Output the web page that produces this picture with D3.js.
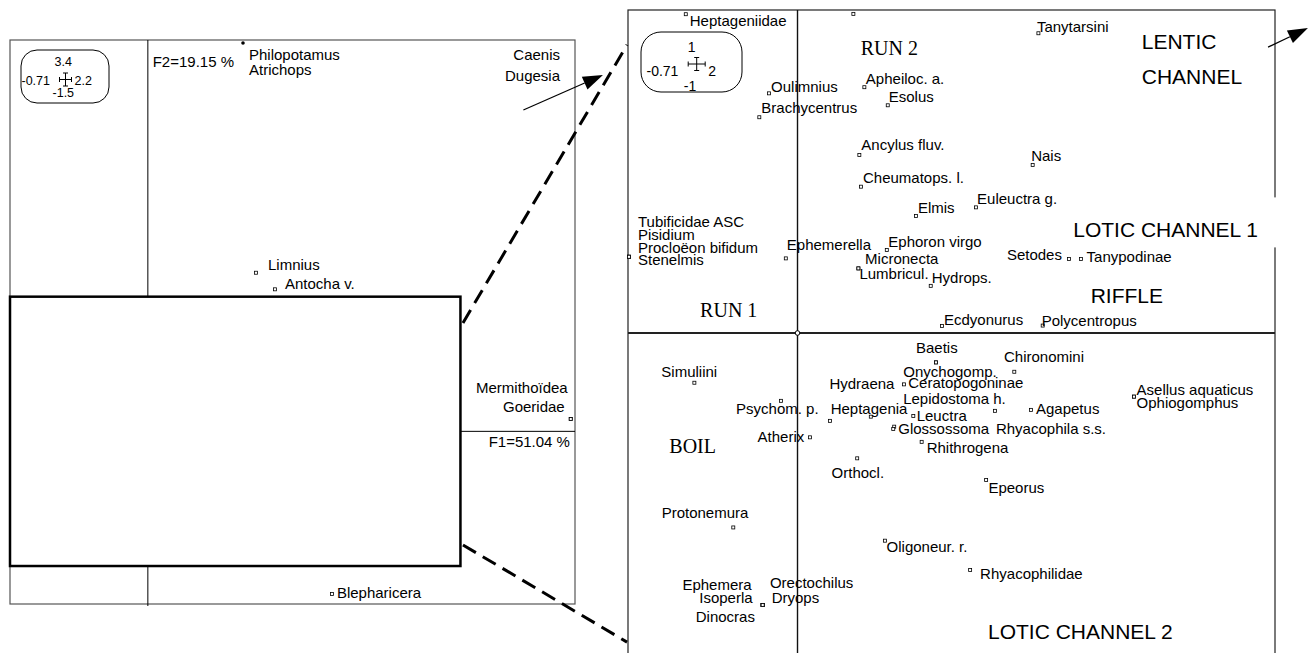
<!DOCTYPE html>
<html lang="en">
<head>
<meta charset="UTF-8">
<title>Correspondence analysis F1 x F2</title>
<script src="https://cdnjs.cloudflare.com/ajax/libs/d3/7.8.5/d3.min.js"></script>
<style>
  body { margin: 0; background: #fff; }
  svg { display: block; }
  .lab { font-family: Arial, "Liberation Sans", sans-serif; font-size: 15px; fill: #000; }
  .big { font-family: Arial, "Liberation Sans", sans-serif; font-size: 21px; fill: #000; }
  .serif { font-family: "Times New Roman", "Liberation Serif", serif; font-size: 20px; fill: #000; }
</style>
</head>
<body>
<svg width="1314" height="653"></svg>
<script>
// ---------- data ----------
// full factorial plane (left)
const fullX = [-0.71, 2.2];
const fullY = [-1.5, 3.4];
const axisNames = ["F1=51.04 %", "F2=19.15 %"];
const fullTaxa = ["Philopotamus", "Atrichops", "Limnius", "Antocha v.", "Mermithoïdea", "Goeridae", "Blepharicera"];
const fullF1 = [0.49, 0.49, 0.557, 0.655, 2.178, 2.178, 0.948];
const fullF2 = [3.374, 3.374, 1.378, 1.234, 0.107, 0.107, -1.413];
const offTaxa = ["Caenis", "Dugesia"];          // beyond the frame, label only
// zoomed area shown in the left panel
const zoomBoxX = [-0.71, 1.61];
const zoomBoxY = [-1.17, 1.17];

// zoomed plane (right)
const zoomX = [-0.71, 2];
const zoomY = [-1, 1];
const zoomTaxa = [
  "Heptageniidae", "", "Oulimnius", "Brachycentrus", "Apheiloc. a.", "Esolus", "Ancylus fluv.",
  "Tanytarsini", "Nais", "Cheumatops. l.", "Elmis", "Euleuctra g.",
  "Tubificidae ASC", "Pisidium", "Procloëon bifidum", "Stenelmis",
  "Ephemerella", "Ephoron virgo", "Micronecta", "Lumbricul.", "Hydrops.", "Ecdyonurus",
  "Polycentropus", "Setodes", "Tanypodinae",
  "Simuliini", "Psychom. p.", "Heptagenia", "Hydraena", "Atherix", "Orthocl.",
  "Baetis", "Onychogomp.", "Chironomini", "Ceratopogoninae", "Lepidostoma h.", "Leuctra",
  "Agapetus", "Glossossoma", "Rhyacophila s.s.", "Rhithrogena", "Asellus aquaticus", "Ophiogomphus",
  "Epeorus", "Protonemura", "Ephemera", "Isoperla", "Dinocras", "Orectochilus", "Dryops",
  "Oligoneur. r.", "Rhyacophilidae"
];
const zoomF1 = [
  -0.468, 0.234, -0.119, -0.160, 0.280, 0.378, 0.259,
  1.009, 0.985, 0.266, 0.496, 0.748,
  -0.706, -0.706, -0.706, -0.706,
  -0.049, 0.374, 0.255, 0.255, 0.558, 0.605,
  1.027, 1.137, 1.187,
  -0.432, -0.069, 0.136, 0.307, 0.052, 0.250,
  0.580, 0.580, 0.908, 0.446, 0.405, 0.485,
  0.978, 0.401, 0.827, 0.520, 1.409, 1.409,
  0.790, -0.269, -0.146, -0.146, -0.146, -0.146, -0.146,
  0.366, 0.723
];
const zoomF2 = [
  0.987, 0.988, 0.742, 0.668, 0.761, 0.705, 0.551,
  0.928, 0.520, 0.453, 0.362, 0.389,
  0.236, 0.236, 0.236, 0.236,
  0.231, 0.257, 0.200, 0.200, 0.146, 0.022,
  0.023, 0.229, 0.229,
  -0.154, -0.210, -0.272, -0.259, -0.323, -0.388,
  -0.091, -0.091, -0.120, -0.159, -0.290, -0.257,
  -0.238, -0.297, -0.241, -0.337, -0.197, -0.197,
  -0.455, -0.602, -0.842, -0.842, -0.842, -0.842, -0.842,
  -0.643, -0.734
];
// habitat groups written on the zoomed plane
const groupNames = ["RUN 2", "RUN 1", "BOIL", "LENTIC", "CHANNEL", "LOTIC CHANNEL 1", "RIFFLE", "LOTIC CHANNEL 2"];
const groupF1 = [0.265, -0.408, -0.537, 1.442, 1.442, 1.155, 1.228, 0.798];
const groupF2 = [0.861, 0.051, -0.372, 0.879, 0.770, 0.296, 0.094, -0.948];

// ---------- layout (label offsets in px) ----------
const fullLabelOff = {
  "Philopotamus": [6, 17], "Atrichops": [6, 32], "Limnius": [12, -3], "Antocha v.": [10, 0],
  "Mermithoïdea": [-3, -26, "end"], "Goeridae": [-6, -7, "end"], "Blepharicera": [5, 4]
};
const zoomLabelOff = {
  "Heptageniidae": [4, 12], "Oulimnius": [2, -1.5], "Brachycentrus": [2, -4.5],
  "Apheiloc. a.": [1.5, -3], "Esolus": [1, -3], "Ancylus fluv.": [2, -5],
  "Tanytarsini": [-1.5, -1], "Nais": [-1.5, -4], "Cheumatops. l.": [2, -4], "Elmis": [2, -3],
  "Euleuctra g.": [1, -3], "Tubificidae ASC": [9, -30], "Pisidium": [9, -16.5],
  "Procloëon bifidum": [9, -3.5], "Stenelmis": [9, 8.3], "Ephemerella": [1, -8],
  "Ephoron virgo": [1.5, -2.7], "Micronecta": [6.7, -4.3], "Lumbricul.": [1, 11],
  "Hydrops.": [1, -2.7], "Ecdyonurus": [2, -0.5], "Polycentropus": [-1, 0],
  "Setodes": [-7, 1, "end"], "Tanypodinae": [5.7, 3], "Simuliini": [-33, -6],
  "Psychom. p.": [-45, 13.3], "Heptagenia": [0.7, -6.7], "Hydraena": [-41.4, -27.4],
  "Atherix": [-5.7, 4.4, "end"], "Orthocl.": [-25.6, 19.4], "Baetis": [-20, -9],
  "Onychogomp.": [-32.7, 14.4], "Chironomini": [-10.3, -10], "Ceratopogoninae": [4.3, 4],
  "Lepidostoma h.": [9, -22.7], "Leuctra": [3.4, 4.7], "Agapetus": [5, 4],
  "Glossossoma": [5, 5], "Rhyacophila s.s.": [1, 23], "Rhithrogena": [5, 11.6],
  "Asellus aquaticus": [2.7, -1.7], "Ophiogomphus": [2.7, 11.6], "Epeorus": [2.3, 12.7],
  "Protonemura": [-71.6, -9], "Ephemera": [-11, -15, "end"], "Isoperla": [-10, -1.7, "end"],
  "Dinocras": [-7.7, 16.7, "end"], "Orectochilus": [7.3, -16.7], "Dryops": [9, -2.3],
  "Oligoneur. r.": [1.7, 11], "Rhyacophilidae": [10, 9]
};

const svg = d3.select("svg");
const FONT = 'Arial, "Liberation Sans", sans-serif';

// ---------- scales ----------
const xL = d3.scaleLinear().domain(fullX).range([10, 575]);
const yL = d3.scaleLinear().domain(fullY).range([604, 40]);
const xR = d3.scaleLinear().domain(zoomX).range([628, 1275]);
const yR = d3.scaleLinear().domain(zoomY).range([656, 10]);

// small rounded box with the axis limits and a cross
function scaleBox(g, box, xs, ys, fs, cross, pos) {
  g.append("rect")
    .attr("x", box[0]).attr("y", box[1])
    .attr("width", box[2]).attr("height", box[3])
    .attr("rx", box[4]).attr("ry", box[4])
    .attr("fill", "#fff").attr("stroke", "#000").attr("stroke-width", 1);
  const t = (txt, x, y, anchor) => g.append("text")
    .attr("x", x).attr("y", y).attr("text-anchor", anchor)
    .attr("font-family", FONT).attr("font-size", fs).text(txt);
  t(String(ys[1]), pos.top[0], pos.top[1], "middle");
  t(String(xs[0]), pos.left[0], pos.left[1], "start");
  t(String(xs[1]), pos.right[0], pos.right[1], "start");
  t(String(ys[0]), pos.bottom[0], pos.bottom[1], "middle");
  const [cx, cy, hw, hh] = cross, c = 2.5;
  const p = d3.path();
  p.moveTo(cx - hw, cy); p.lineTo(cx + hw, cy);
  p.moveTo(cx - hw, cy - c); p.lineTo(cx - hw, cy + c);
  p.moveTo(cx + hw, cy - c); p.lineTo(cx + hw, cy + c);
  p.moveTo(cx, cy - hh); p.lineTo(cx, cy + hh);
  p.moveTo(cx - c, cy - hh); p.lineTo(cx + c, cy - hh);
  p.moveTo(cx - c, cy + hh); p.lineTo(cx + c, cy + hh);
  g.append("path").attr("d", p.toString()).attr("stroke", "#000").attr("stroke-width", 1).attr("fill", "none");
}

function arrow(g, x1, y1, x2, y2, len, half) {
  const a = Math.atan2(y2 - y1, x2 - x1);
  const bx = x2 - len * Math.cos(a), by = y2 - len * Math.sin(a);
  g.append("line").attr("x1", x1).attr("y1", y1).attr("x2", bx).attr("y2", by)
    .attr("stroke", "#000").attr("stroke-width", 1.2);
  const nx = -Math.sin(a) * half, ny = Math.cos(a) * half;
  g.append("path")
    .attr("d", `M${x2},${y2}L${bx + nx},${by + ny}L${bx - nx},${by - ny}Z`)
    .attr("fill", "#000");
}

// ================= right panel (zoom) =================
const gR = svg.append("g");
gR.append("rect")
  .attr("x", xR(zoomX[0])).attr("y", yR(zoomY[1]))
  .attr("width", xR(zoomX[1]) - xR(zoomX[0])).attr("height", yR(zoomY[0]) - yR(zoomY[1]))
  .attr("fill", "none").attr("stroke", "#222").attr("stroke-width", 1.2);
gR.append("line")
  .attr("x1", xR(zoomX[0])).attr("x2", xR(zoomX[1]))
  .attr("y1", yR(0)).attr("y2", yR(0))
  .attr("stroke", "#222").attr("stroke-width", 2);
gR.append("line")
  .attr("x1", xR(0)).attr("x2", xR(0))
  .attr("y1", yR(zoomY[1])).attr("y2", yR(zoomY[0]))
  .attr("stroke", "#111").attr("stroke-width", 1.4);
gR.append("circle").attr("cx", xR(0)).attr("cy", yR(0)).attr("r", 2.3)
  .attr("fill", "#fff").attr("stroke", "#000").attr("stroke-width", 1);

const zoomData = zoomTaxa.map((n, i) => ({ name: n, x: zoomF1[i], y: zoomF2[i] }));

gR.selectAll("rect.pt").data(zoomData).join("rect")
  .attr("class", "pt")
  .attr("x", d => xR(d.x) - 1.5).attr("y", d => yR(d.y) - 1.5)
  .attr("width", 3).attr("height", 3)
  .attr("fill", "#fff").attr("stroke", "#000").attr("stroke-width", 0.8);

gR.selectAll("text.lab").data(zoomData.filter(d => d.name)).join("text")
  .attr("class", "lab")
  .attr("x", d => xR(d.x) + zoomLabelOff[d.name][0])
  .attr("y", d => yR(d.y) + zoomLabelOff[d.name][1])
  .attr("text-anchor", d => zoomLabelOff[d.name][2] || "start")
  .text(d => d.name);

const groups = groupNames.map((n, i) => ({ name: n, x: groupF1[i], y: groupF2[i] }));
const serifGroups = ["RUN 2", "RUN 1", "BOIL"];
groups.forEach(d => {
  gR.append("text")
    .attr("class", serifGroups.includes(d.name) ? "serif" : "big")
    .attr("x", xR(d.x)).attr("y", yR(d.y)).text(d.name);
  if (d.name === "LOTIC CHANNEL 1") {
    // white text box that interrupts the frame
    gR.insert("rect", "text")
      .attr("x", xR(d.x) - 5).attr("y", yR(d.y) - 40)
      .attr("width", 212).attr("height", 50).attr("fill", "#fff");
  }
});
// pulled out of the frame toward the lentic taxa
arrow(gR, xR(1.971), yR(0.885), xR(2.138), yR(0.944), 20, 7);

scaleBox(gR, [641, 32, 101, 60, 20], zoomX, zoomY, 14, [696.7, 64, 8.5, 6.5],
  { top: [691.7, 51.5], left: [646.5, 75.7], right: [708.3, 76], bottom: [690, 90.5] });

// ================= left panel (full plane) =================
const gL = svg.append("g");
gL.append("rect")
  .attr("x", xL(fullX[0])).attr("y", yL(fullY[1]))
  .attr("width", xL(fullX[1]) - xL(fullX[0])).attr("height", yL(fullY[0]) - yL(fullY[1]))
  .attr("fill", "none").attr("stroke", "#555").attr("stroke-width", 1.2);
gL.append("line")
  .attr("x1", xL(fullX[0])).attr("x2", xL(fullX[1]))
  .attr("y1", yL(0)).attr("y2", yL(0))
  .attr("stroke", "#000").attr("stroke-width", 1);
gL.append("line")
  .attr("x1", xL(0)).attr("x2", xL(0))
  .attr("y1", yL(fullY[1])).attr("y2", yL(fullY[0]) + 2)
  .attr("stroke", "#000").attr("stroke-width", 1);

const fullData = fullTaxa.map((n, i) => ({ name: n, x: fullF1[i], y: fullF2[i] }));
gL.selectAll("rect.pt").data(fullData.filter(d => d.name !== "Philopotamus" && d.name !== "Atrichops")).join("rect")
  .attr("class", "pt")
  .attr("x", d => xL(d.x) - 1.5).attr("y", d => yL(d.y) - 1.5)
  .attr("width", 3).attr("height", 3)
  .attr("fill", "#fff").attr("stroke", "#000").attr("stroke-width", 0.8);
gL.append("circle").attr("cx", xL(fullF1[0])).attr("cy", yL(fullF2[0])).attr("r", 1.8).attr("fill", "#000");

gL.selectAll("text.lab").data(fullData).join("text")
  .attr("class", "lab")
  .attr("x", d => xL(d.x) + fullLabelOff[d.name][0])
  .attr("y", d => yL(d.y) + fullLabelOff[d.name][1])
  .attr("text-anchor", d => fullLabelOff[d.name][2] || "start")
  .text(d => d.name);

// taxa beyond the frame
offTaxa.forEach((n, i) => {
  gL.append("text").attr("class", "lab")
    .attr("x", xL(2.123)).attr("y", yL(3.226 - i * 0.182))
    .attr("text-anchor", "end").text(n);
});
arrow(gL, xL(1.934), yL(2.792), xL(2.344), yL(3.096), 20, 7);

// axis inertia
gL.append("text").attr("class", "lab").attr("x", xL(2.174)).attr("y", yL(-0.136))
  .attr("text-anchor", "end").text(axisNames[0]);
gL.append("text").attr("class", "lab").attr("x", xL(0.025)).attr("y", yL(3.166))
  .text(axisNames[1]);

// zoomed window
gL.append("rect")
  .attr("x", xL(zoomBoxX[0])).attr("y", yL(zoomBoxY[1]))
  .attr("width", xL(zoomBoxX[1]) - xL(zoomBoxX[0]))
  .attr("height", yL(zoomBoxY[0]) - yL(zoomBoxY[1]))
  .attr("fill", "#fff").attr("stroke", "#000").attr("stroke-width", 2.5);

scaleBox(gL, [21, 50, 88, 53, 16], fullX, fullY, 12.5, [65.5, 79.5, 6, 6.5],
  { top: [63.3, 65.5], left: [21.5, 84.5], right: [74.5, 84.5], bottom: [63.3, 97] });

// dashed links between the zoom window and the right panel
const links = [
  [xL(1.623), yL(0.942), xR(-0.714), yR(0.892)],
  [xL(1.623), yL(-0.987), xR(-0.714), yR(-0.957)]
];
svg.selectAll("line.link").data(links).join("line")
  .attr("class", "link")
  .attr("x1", d => d[0]).attr("y1", d => d[1])
  .attr("x2", d => d[2]).attr("y2", d => d[3])
  .attr("stroke", "#000").attr("stroke-width", 3)
  .attr("stroke-dasharray", "15,8");
</script>
</body>
</html>
